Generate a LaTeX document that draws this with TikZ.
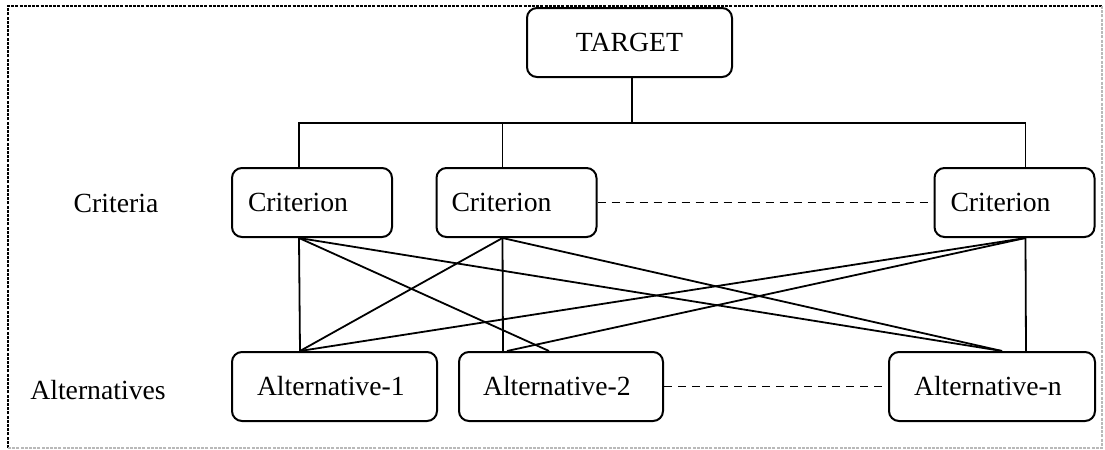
\documentclass[tikz,border=0pt]{standalone}
\usepackage{fontspec}
\setmainfont{Liberation Serif}
\usetikzlibrary{calc}
\begin{document}
\begin{tikzpicture}[x=0.5pt,y=-0.5pt,
  box/.style={draw, line width=1pt, rounded corners=5pt, inner sep=0pt,
    minimum height=34.5pt, font=\fontsize{13.85}{16}\selectfont},
  lbl/.style={inner sep=0pt, font=\fontsize{13.85}{16}\selectfont},
  wire/.style={line width=0.9pt},
  dline/.style={line width=0.9pt, dash pattern=on 4pt off 3pt}
]
\useasboundingbox (0,0) rectangle (1105,450);
\draw[line width=1pt, dash pattern=on 1.5pt off 0.6pt] (8,448) -- (8,6) -- (1102,6);
\draw[line width=0.8pt, gray!55, dash pattern=on 1.5pt off 0.6pt] (1102,6) -- (1102,448) -- (8,448);

\node[box, minimum width=102.5pt] (target) at (629.5,42.5) {TARGET};

\node[box, minimum width=80pt] (c1) at (312,202.5) {\makebox[80pt][l]{\hspace{8pt}Criterion}};
\node[box, minimum width=80pt] (c2) at (516.5,202.5) {\makebox[80pt][l]{\hspace{7.5pt}Criterion}};
\node[box, minimum width=80pt] (c3) at (1014.5,202.5) {\makebox[80pt][l]{\hspace{8pt}Criterion}};

\node[box, minimum width=102.5pt] (a1) at (334.5,386.5) {\makebox[102.5pt][l]{\hspace{12.5pt}Alternative-1}};
\node[box, minimum width=102pt] (a2) at (561,386.5) {\makebox[102pt][l]{\hspace{12pt}Alternative-2}};
\node[box, minimum width=103pt] (an) at (992,386.5) {\makebox[103pt][l]{\hspace{12.5pt}Alternative-n}};

\node[lbl] (crit) at (116,203) {Criteria};
\node[lbl] (alts) at (98,390) {Alternatives};

\coordinate (bus) at (0,123);
\coordinate (tb) at ($(target.south west)+(106,0)$);
\coordinate (c1t) at ($(c1.north west)+(68,0)$);
\coordinate (c1b) at ($(c1.south west)+(68,0)$);
\coordinate (c2t) at ($(c2.north west)+(67,0)$);
\coordinate (c2b) at ($(c2.south west)+(67,0)$);
\coordinate (c3t) at ($(c3.north west)+(92,0)$);
\coordinate (c3b) at ($(c3.south west)+(92,0)$);
\coordinate (a1t) at ($(a1.north west)+(69,0)$);
\coordinate (a2v) at ($(a2.north west)+(45,0)$);
\coordinate (a2r) at ($(a2.north west)+(49,0)$);
\coordinate (a2l) at ($(a2.north west)+(91,0)$);
\coordinate (anv) at ($(an.north west)+(138,0)$);
\coordinate (anc) at ($(an.north west)+(114,0)$);

\draw[wire] (tb) -- (tb |- bus);
\draw[wire] (c1t) -- (c1t |- bus) -- (c3t |- bus) -- (c3t);
\draw[wire] (c2t) -- (c2t |- bus);

\draw[wire] (c1b) -- (a1t);
\draw[wire] (c1b) -- (a2l);
\draw[wire] (c1b) -- (anc);
\draw[wire] (c2b) -- (a1t);
\draw[wire] (c2b) -- (a2v);
\draw[wire] (c2b) -- (anc);
\draw[wire] (c3b) -- (a1t);
\draw[wire] (c3b) -- (a2r);
\draw[wire] (c3b) -- (anv);

\draw[dline] (c2.east) -- (c3.west);
\draw[dline] (a2.east) -- (an.west);
\end{tikzpicture}
\end{document}
